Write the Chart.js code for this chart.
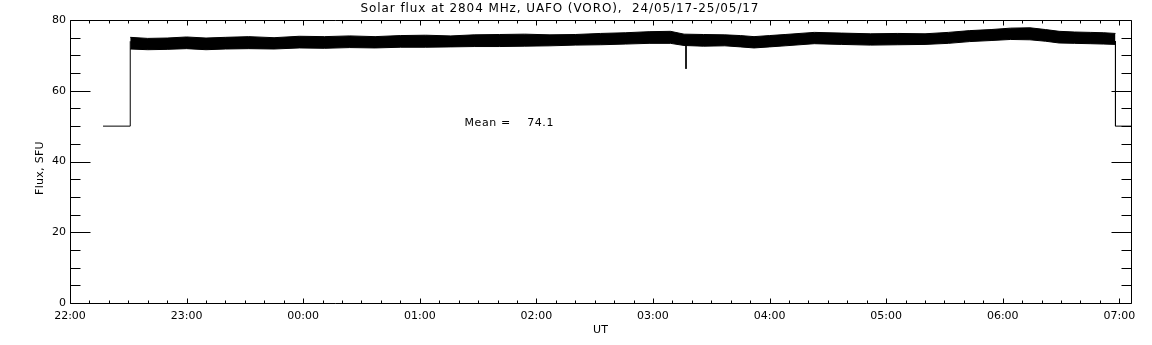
<!DOCTYPE html>
<html>
<head>
<meta charset="utf-8">
<script src="https://cdn.jsdelivr.net/npm/chart.js@4/dist/chart.umd.min.js"></script>
<style>
    html, body { margin: 0; padding: 0; background: #fff; }
    #wrap { width: 1152px; height: 345px; }
</style>
</head>
<body>
<div id="wrap"><canvas id="fluxChart" width="1152" height="345"></canvas></div>
<script>
// ==================== DATOS ====================
// tiempo en minutos desde las 22:00 UT
const titulo = 'Solar flux at 2804 MHz, UAFO (VORO),  24/05/17-25/05/17';
const horaLabels = ['22:00', '23:00', '00:00', '01:00', '02:00', '03:00', '04:00', '05:00', '06:00', '07:00'];
const mediaTexto = 'Mean =    74.1';

// envolvente de la banda de ruido (superior / inferior)
const bandaTiempos = [31, 40, 50, 60, 70, 80, 92, 105, 118, 131, 144, 157, 170, 183, 196, 208, 221, 234, 247, 260, 273, 286, 298, 309, 316, 326, 337, 345, 352, 360, 368, 383, 397, 412, 426, 440, 452, 463, 474, 484, 494, 502, 509, 517, 525, 532, 538];
const bandaSup = [75.1, 74.8, 74.9, 75.2, 74.9, 75.1, 75.3, 75.0, 75.4, 75.3, 75.5, 75.3, 75.6, 75.7, 75.5, 75.8, 75.9, 76.0, 75.8, 75.9, 76.2, 76.4, 76.7, 76.8, 76.0, 75.9, 75.8, 75.6, 75.3, 75.6, 75.9, 76.5, 76.3, 76.1, 76.2, 76.1, 76.5, 77.0, 77.3, 77.7, 77.8, 77.3, 76.8, 76.6, 76.5, 76.4, 76.2];
const bandaInf = [71.8, 71.6, 71.7, 71.9, 71.6, 71.8, 71.9, 71.8, 72.1, 72.0, 72.2, 72.1, 72.3, 72.3, 72.4, 72.5, 72.5, 72.6, 72.7, 72.9, 73.0, 73.2, 73.4, 73.4, 72.8, 72.6, 72.7, 72.4, 72.1, 72.4, 72.7, 73.3, 73.1, 72.9, 73.0, 73.1, 73.4, 73.9, 74.2, 74.5, 74.4, 74.0, 73.5, 73.4, 73.3, 73.2, 73.1];

// escalones de inicio y fin (calibración)
const inicioTiempos = [17, 31, 31];
const inicioValores = [50, 50, 74];
const finTiempos = [538, 538, 546];
const finValores = [74, 50, 50];

// pico hacia abajo a las 03:17
const picoTiempos = [317, 317];
const picoValores = [73, 66.2];

const mediaPos = { x: 203, y: 50.9 };

function puntos(xs, ys) {
    return xs.map((x, i) => ({ x: x, y: ys[i] }));
}

const fuente = '"DejaVu Sans", sans-serif';

// Plugin: marco completo, marcas hacia adentro, títulos y texto de la media
const marcoIDL = {
    id: 'marcoIDL',
    afterDraw(chart) {
        const ctx = chart.ctx;
        const a = chart.chartArea;
        const xs = chart.scales.x;
        const ys = chart.scales.y;
        ctx.save();
        ctx.strokeStyle = '#000';
        ctx.lineWidth = 1;
        const L = Math.round(a.left) + 0.5, R = Math.round(a.right) + 0.5;
        const T = Math.round(a.top) + 0.5, B = Math.round(a.bottom) + 0.5;
        ctx.beginPath();
        ctx.rect(L, T, R - L, B - T);
        ctx.stroke();

        ctx.beginPath();
        xs.ticks.forEach(t => {
            const px = Math.round(xs.getPixelForValue(t.value)) + 0.5;
            const len = t.value % 60 === 0 ? 5 : 3;
            ctx.moveTo(px, B); ctx.lineTo(px, B - len);
            ctx.moveTo(px, T); ctx.lineTo(px, T + len);
        });
        ys.ticks.forEach(t => {
            const py = Math.round(ys.getPixelForValue(t.value)) + 0.5;
            const len = t.value % 20 === 0 ? 20 : 10;
            ctx.moveTo(L, py); ctx.lineTo(L + len, py);
            ctx.moveTo(R, py); ctx.lineTo(R - len, py);
        });
        ctx.stroke();

        ctx.fillStyle = '#000';
        ctx.textBaseline = 'middle';
        ctx.font = '12px ' + fuente;
        ctx.letterSpacing = '0.9px';
        ctx.textAlign = 'center';
        ctx.fillText(titulo, 560, 9);

        ctx.font = '11px ' + fuente;
        ctx.letterSpacing = '0.6px';
        ctx.textAlign = 'left';
        ctx.fillText(mediaTexto, xs.getPixelForValue(mediaPos.x), ys.getPixelForValue(mediaPos.y));

        // título del eje Y
        ctx.letterSpacing = '0.3px';
        ctx.translate(40, 168);
        ctx.rotate(-Math.PI / 2);
        ctx.textAlign = 'center';
        ctx.fillText('Flux, SFU', 0, 0);
        ctx.restore();
    }
};

const linea = { borderColor: '#000', borderWidth: 1, pointRadius: 0, tension: 0, fill: false };

new Chart(document.getElementById('fluxChart'), {
    type: 'line',
    data: {
        datasets: [
            Object.assign({ label: 'sup', data: puntos(bandaTiempos, bandaSup) }, linea),
            Object.assign({ label: 'inf', data: puntos(bandaTiempos, bandaInf) }, linea, { fill: 0, backgroundColor: '#000' }),
            Object.assign({ label: 'inicio', data: puntos(inicioTiempos, inicioValores) }, linea),
            Object.assign({ label: 'fin', data: puntos(finTiempos, finValores) }, linea),
            Object.assign({ label: 'pico', data: puntos(picoTiempos, picoValores) }, linea)
        ]
    },
    options: {
        responsive: false,
        animation: false,
        layout: { padding: { top: 20, right: 21, left: 0, bottom: 0 } },
        plugins: {
            legend: { display: false },
            tooltip: { enabled: false },
            title: { display: false }
        },
        scales: {
            x: {
                type: 'linear',
                min: 0,
                max: 546,
                grid: { display: false, drawTicks: false },
                border: { display: false },
                ticks: {
                    stepSize: 10,
                    autoSkip: false,
                    maxRotation: 0,
                    includeBounds: false,
                    padding: 7,
                    color: '#000',
                    font: { family: fuente, size: 11 },
                    callback: v => (v % 60 === 0 ? horaLabels[v / 60] : '')
                },
                title: {
                    display: true,
                    text: 'UT',
                    color: '#000',
                    font: { family: fuente, size: 11 },
                    padding: { top: 0, bottom: 8 }
                },
                afterFit: s => { s.height = 42; }
            },
            y: {
                min: 0,
                max: 80,
                grid: { display: false, drawTicks: false },
                border: { display: false },
                ticks: {
                    stepSize: 5,
                    autoSkip: false,
                    padding: 4,
                    color: '#000',
                    font: { family: fuente, size: 11 },
                    callback: v => (v % 20 === 0 ? v : '')
                },
                title: { display: false },
                afterFit: s => { s.width = 70; }
            }
        }
    },
    plugins: [marcoIDL]
});
</script>
</body>
</html>
